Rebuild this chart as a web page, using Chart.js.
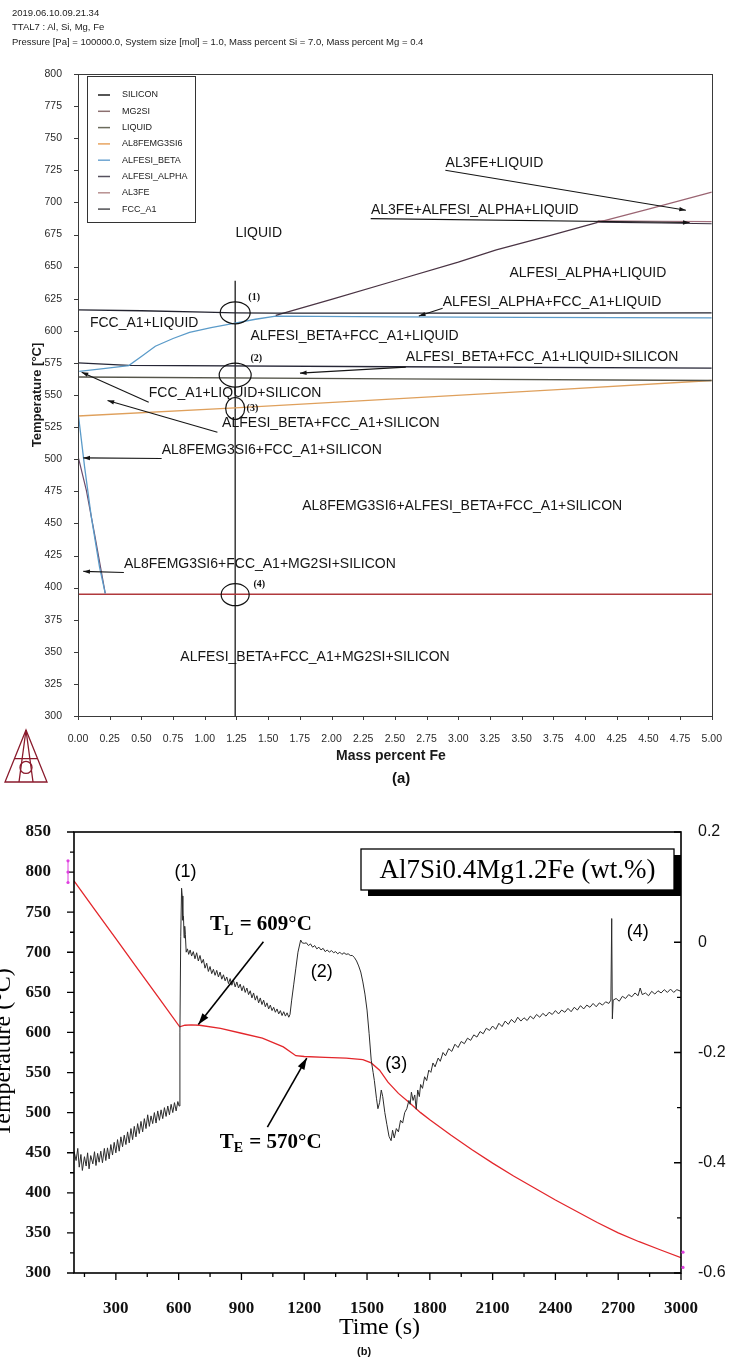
<!DOCTYPE html>
<html>
<head>
<meta charset="utf-8">
<title>Al-7Si-0.4Mg-xFe phase diagram and cooling curve</title>
<script src="https://cdn.jsdelivr.net/npm/chart.js@4.4.1/dist/chart.umd.min.js"></script>
<style>
  html, body { margin:0; padding:0; background:#ffffff; }
  body { width:731px; height:1360px; position:relative; overflow:hidden; font-family:"Liberation Sans", Arial, sans-serif; }
  canvas { position:absolute; left:0; }
  #phaseCanvas { top:0; }
  #coolCanvas { top:800px; }
  .hdr { position:absolute; left:12px; font-size:9.5px; line-height:11px; color:#222; white-space:nowrap; z-index:2; }
  .cap { position:absolute; font-weight:bold; color:#111; z-index:2; white-space:nowrap; }
</style>
</head>
<body>
<div class="hdr" style="top:7px;">2019.06.10.09.21.34</div>
<div class="hdr" style="top:21px;">TTAL7 : Al, Si, Mg, Fe</div>
<div class="hdr" style="top:36px;">Pressure [Pa] = 100000.0, System size [mol] = 1.0, Mass percent Si = 7.0, Mass percent Mg = 0.4</div>
<canvas id="phaseCanvas" width="731" height="800"></canvas>
<canvas id="coolCanvas" width="731" height="560"></canvas>
<div class="cap" style="left:392px; top:769px; font-size:15px;">(a)</div>
<div class="cap" style="left:357px; top:1345px; font-size:11px;">(b)</div>
<script>
// ===================== (a) phase diagram: mass percent Fe vs temperature (°C) =====================
const feTicks = [0,0.25,0.5,0.75,1,1.25,1.5,1.75,2,2.25,2.5,2.75,3,3.25,3.5,3.75,4,4.25,4.5,4.75,5];
const tempTicksA = [300,325,350,375,400,425,450,475,500,525,550,575,600,625,650,675,700,725,750,775,800];

const fccLiquidus = [[0,616.3],[0.5,615.6],[1.0,614.6],[1.24,614],[1.56,613.7],[2.5,613.7],[3.5,613.8],[5.0,614]];
const alfesiAlphaLiquidus = [[1.56,612],[2.0,624.5],[2.5,639],[3.0,653.5],[3.3,663],[3.7,673.6],[4.1,684.4]];
const al3feLiquidus = [[4.1,684.4],[4.5,694.8],[5.0,708]];
const al3feInvariant = [[4.1,685.6],[4.6,685.3],[5.0,685]];
const alphaInvariant = [[4.1,684.6],[4.6,684],[5.0,683.4]];
const alfesiBetaLine = [[0.01,568.4],[0.2,570.5],[0.4,572.9],[0.5,580],[0.61,588],[0.75,594],[0.88,598.7],[1.05,602.5],[1.24,606],[1.4,609],[1.56,611.5],[2.5,610.8],[3.5,610.4],[5.0,610]];
const siliconLine = [[0,575],[0.4,573],[2.5,572],[5.0,571]];
const liquidLine = [[0,564],[2.5,562.6],[5.0,561.3]];
const al8feMg3Si6Line = [[0,533.7],[1.24,540],[2.5,547],[3.75,554],[5.0,561.3]];
const betaSolvus = [[0.005,532.8],[0.052,494],[0.105,455],[0.17,416],[0.215,395.5]];
const alphaSolvus = [[0.005,500.4],[0.066,475.8],[0.13,442],[0.215,395.5]];
const mg2siLine = [[0,394.8],[5.0,394.8]];
const alloyLine = [[1.24,639],[1.24,300]];

const legendNames = ['SILICON','MG2SI','LIQUID','AL8FEMG3SI6','ALFESI_BETA','ALFESI_ALPHA','AL3FE','FCC_A1'];

const regionLabels = ['LIQUID','AL3FE+LIQUID','AL3FE+ALFESI_ALPHA+LIQUID','ALFESI_ALPHA+LIQUID','ALFESI_ALPHA+FCC_A1+LIQUID','FCC_A1+LIQUID','ALFESI_BETA+FCC_A1+LIQUID','ALFESI_BETA+FCC_A1+LIQUID+SILICON','FCC_A1+LIQUID+SILICON','ALFESI_BETA+FCC_A1+SILICON','AL8FEMG3SI6+FCC_A1+SILICON','AL8FEMG3SI6+ALFESI_BETA+FCC_A1+SILICON','AL8FEMG3SI6+FCC_A1+MG2SI+SILICON','ALFESI_BETA+FCC_A1+MG2SI+SILICON'];
const regionLabelFe = [1.242,2.90,2.311,3.404,2.877,0.094,1.36,2.586,0.558,1.137,0.66,1.769,0.362,0.807];
const regionLabelT = [676,730.8,693.9,645,622.4,605.8,595.6,579.3,551.2,527.8,506.7,463.8,418.3,345.5];

const leaderFromFe = [2.898,2.309,2.877,2.586,0.558,1.10,0.66,0.362];
const leaderFromT = [725.1,687.4,617.5,571.7,544.4,521,500.5,411.8];
const leaderToFe = [4.796,4.825,2.689,1.751,0.029,0.233,0.042,0.042];
const leaderToT = [693.9,684.3,611.5,567,567.8,545.7,501,412.6];

const pointMarks = ['(1)','(2)','(3)','(4)'];
const pointFe = [1.24,1.24,1.24,1.24];
const pointT = [614,565.5,539.5,394.5];
const pointLabelFe = [1.344,1.36,1.33,1.384];
const pointLabelT = [626.3,578.5,539.5,402.2];

// ===================== (b) cooling curve: time (s) =====================
const timeTicks = [300,600,900,1200,1500,1800,2100,2400,2700,3000];
const tempTicksB = [300,350,400,450,500,550,600,650,700,750,800,850];
const rateTicks = [-0.6,-0.4,-0.2,0,0.2];

const coolingCurve = [[100,789],[200,753],[300,717],[400,681],[500,645],[605,607],[630,609],[660,609.5],[700,609],[800,605],[900,599],[1000,593],[1100,582],[1160,571],[1200,570],[1300,569],[1400,568],[1480,566],[1520,562],[1560,553],[1600,538],[1650,524],[1700,513],[1756,500],[1800,491],[1900,472],[2000,454],[2100,437],[2200,421],[2300,406],[2400,391],[2500,377],[2600,363],[2700,350],[2800,339],[2900,329],[3000,319]];

const rateSignal = [[100,-0.379],[110,-0.396],[118,-0.374],[125,-0.408],[133,-0.385],[140,-0.414],[150,-0.389],[158,-0.406],[165,-0.382],[172,-0.411],[180,-0.387],[190,-0.402],[198,-0.380],[205,-0.405],[213,-0.383],[220,-0.399],[228,-0.379],[236,-0.400],[245,-0.374],[252,-0.396],[260,-0.373],[268,-0.393],[276,-0.367],[284,-0.386],[292,-0.363],[300,-0.382],[308,-0.358],[316,-0.379],[324,-0.353],[332,-0.371],[340,-0.350],[348,-0.367],[356,-0.344],[364,-0.364],[372,-0.338],[380,-0.358],[388,-0.334],[396,-0.353],[404,-0.329],[412,-0.347],[420,-0.325],[428,-0.344],[436,-0.320],[444,-0.338],[452,-0.313],[460,-0.334],[468,-0.315],[476,-0.329],[484,-0.309],[492,-0.328],[500,-0.306],[508,-0.323],[516,-0.304],[524,-0.320],[532,-0.300],[540,-0.316],[548,-0.297],[556,-0.313],[564,-0.294],[572,-0.309],[580,-0.291],[588,-0.306],[596,-0.289],[602,-0.297],
[606,-0.163],[610,0.011],[614,0.098],[617,0.084],[620,0.040],[623,0.047],[626,0.008],[629,0.029],[632,0.014],
[636,-0.018],[642,-0.012],[648,-0.022],[655,-0.014],[662,-0.025],[670,-0.017],[678,-0.030],[686,-0.019],[694,-0.034],[702,-0.024],[710,-0.038],[718,-0.031],[726,-0.047],[734,-0.038],[742,-0.053],[750,-0.044],[758,-0.057],[766,-0.049],[774,-0.060],[782,-0.051],[790,-0.063],[798,-0.054],[806,-0.067],[814,-0.059],[822,-0.070],[830,-0.063],[838,-0.075],[846,-0.066],[854,-0.078],[862,-0.069],[870,-0.081],[878,-0.072],[886,-0.083],[894,-0.076],[902,-0.088],[910,-0.079],[918,-0.091],[926,-0.083],[934,-0.095],[942,-0.088],[950,-0.101],[958,-0.092],[966,-0.105],[974,-0.097],[982,-0.110],[990,-0.101],[998,-0.113],[1006,-0.105],[1014,-0.117],[1022,-0.110],[1030,-0.121],[1038,-0.114],[1046,-0.124],[1054,-0.118],[1062,-0.127],[1070,-0.121],[1078,-0.130],[1086,-0.124],[1094,-0.133],[1102,-0.126],[1110,-0.134],[1118,-0.128],[1126,-0.136],[1132,-0.131],
[1140,-0.105],[1150,-0.076],[1160,-0.047],[1170,-0.018],[1183,0.004],[1190,-0.001],[1200,-0.002],[1210,-0.001],[1220,-0.006],[1230,-0.003],[1240,-0.009],[1250,-0.006],[1260,-0.012],[1270,-0.009],[1280,-0.014],[1290,-0.011],[1300,-0.017],[1310,-0.014],[1320,-0.018],[1330,-0.015],[1340,-0.019],[1350,-0.017],[1360,-0.021],[1370,-0.018],[1380,-0.022],[1390,-0.019],[1400,-0.022],[1410,-0.021],[1420,-0.024],[1430,-0.024],[1440,-0.028],[1450,-0.034],[1460,-0.043],[1470,-0.054],[1480,-0.072],[1490,-0.094],[1500,-0.123],[1510,-0.166],[1520,-0.214],[1529,-0.236],
[1535,-0.251],[1545,-0.283],[1552,-0.302],[1560,-0.291],[1568,-0.268],[1575,-0.280],[1585,-0.309],[1595,-0.331],[1605,-0.352],[1615,-0.360],[1622,-0.341],[1630,-0.355],[1640,-0.338],[1650,-0.344],[1660,-0.323],[1670,-0.328],[1680,-0.309],[1690,-0.302],[1700,-0.287],[1706,-0.294],[1712,-0.272],[1720,-0.287],[1728,-0.277],[1735,-0.303],[1742,-0.268],[1750,-0.280],[1756,-0.258],[1765,-0.265],[1775,-0.244],[1785,-0.251],[1795,-0.232],[1805,-0.236],[1815,-0.219],[1825,-0.226],[1840,-0.210],[1850,-0.216],[1863,-0.200],[1875,-0.206],[1890,-0.193],[1905,-0.198],[1920,-0.185],[1935,-0.191],[1950,-0.180],[1965,-0.184],[1980,-0.174],[1995,-0.178],[2010,-0.168],[2025,-0.172],[2040,-0.162],[2055,-0.166],[2070,-0.156],[2085,-0.160],[2100,-0.152],[2115,-0.158],[2130,-0.147],[2145,-0.153],[2160,-0.143],[2175,-0.149],[2190,-0.140],[2205,-0.146],[2220,-0.136],[2235,-0.143],[2250,-0.137],[2265,-0.142],[2280,-0.134],[2295,-0.139],[2310,-0.131],[2325,-0.136],[2340,-0.129],[2355,-0.134],[2370,-0.127],[2385,-0.131],[2400,-0.124],[2415,-0.130],[2430,-0.123],[2445,-0.127],[2460,-0.120],[2475,-0.126],[2490,-0.118],[2505,-0.123],[2520,-0.115],[2535,-0.121],[2550,-0.114],[2565,-0.118],[2580,-0.111],[2595,-0.117],[2610,-0.110],[2625,-0.114],[2640,-0.108],[2655,-0.111],[2665,-0.105],[2669,0.043],[2672,-0.139],[2676,-0.105],[2690,-0.102],[2705,-0.107],[2720,-0.098],[2735,-0.102],[2750,-0.095],[2765,-0.099],[2780,-0.092],[2795,-0.097],[2805,-0.083],[2815,-0.095],[2830,-0.092],[2845,-0.097],[2860,-0.089],[2875,-0.094],[2890,-0.088],[2905,-0.092],[2920,-0.086],[2935,-0.091],[2950,-0.085],[2965,-0.091],[2980,-0.086],[3000,-0.089]];

const eventMarks = ['(1)','(2)','(3)','(4)'];
const eventTime = [633,1284,1639,2793];
const eventTemp = [800,675,561,725];
const tlLabelAt = [750,734];
const teLabelAt = [796,463];
const tlArrow = [[1005,713],[694,610]];
const teArrow = [[1024,482],[1212,568]];
const alloyName = 'Al7Si0.4Mg1.2Fe (wt.%)';

// ===================== styles =====================
const SANS = '"Liberation Sans", Arial, sans-serif';
const SERIF = '"Liberation Serif", "Times New Roman", serif';
const legendColors = ['#1e1e1e','#8c7070','#6b6b5c','#e8a560','#6fa6d2','#55505e','#b89090','#4e4e52'];

const topSeries = [
  {label:'FCC_A1', pts:fccLiquidus, color:'#23232f', w:1.3},
  {label:'ALFESI_ALPHA', pts:alfesiAlphaLiquidus, color:'#4a3444', w:1.2},
  {label:'AL3FE', pts:al3feLiquidus, color:'#9a6472', w:1.2},
  {label:'AL3FE', pts:al3feInvariant, color:'#a4707e', w:1.1},
  {label:'ALFESI_ALPHA', pts:alphaInvariant, color:'#3a3040', w:1.1},
  {label:'ALFESI_BETA', pts:alfesiBetaLine, color:'#5b9bc9', w:1.3},
  {label:'SILICON', pts:siliconLine, color:'#262636', w:1.3},
  {label:'LIQUID', pts:liquidLine, color:'#55554a', w:1.3},
  {label:'AL8FEMG3SI6', pts:al8feMg3Si6Line, color:'#dfa05c', w:1.4},
  {label:'ALFESI_BETA', pts:betaSolvus, color:'#5b9bc9', w:1.3},
  {label:'ALFESI_ALPHA', pts:alphaSolvus, color:'#6a4a6a', w:1.2},
  {label:'MG2SI', pts:mg2siLine, color:'#b0393c', w:1.5},
  {label:'alloy', pts:alloyLine, color:'#1a1a1a', w:1.3}
];
const circleRx = [15,16,9.5,14];
const circleRy = [11,12,11,11];

function arrowLine(ctx, x1, y1, x2, y2, head, lw, withHead) {
  ctx.lineWidth = lw;
  ctx.beginPath(); ctx.moveTo(x1, y1); ctx.lineTo(x2, y2); ctx.stroke();
  if (!withHead) return;
  const a = Math.atan2(y2 - y1, x2 - x1);
  ctx.beginPath();
  ctx.moveTo(x2, y2);
  ctx.lineTo(x2 - head * Math.cos(a - 0.32), y2 - head * Math.sin(a - 0.32));
  ctx.lineTo(x2 - head * Math.cos(a + 0.32), y2 - head * Math.sin(a + 0.32));
  ctx.closePath(); ctx.fill();
}

const phaseDecor = {
  id: 'phaseDecor',
  afterDatasetsDraw(chart) {
    const {ctx, chartArea: a, scales: {x, y}} = chart;
    const px = v => x.getPixelForValue(v), py = v => y.getPixelForValue(v);
    ctx.save();
    ctx.strokeStyle = '#3a3a3a'; ctx.lineWidth = 1;
    ctx.strokeRect(Math.round(a.left) + 0.5, Math.round(a.top) + 0.5, Math.round(a.right - a.left), Math.round(a.bottom - a.top));
    ctx.beginPath();
    tempTicksA.forEach(v => { const yy = Math.round(py(v)) + 0.5; ctx.moveTo(a.left - 4, yy); ctx.lineTo(a.left, yy); });
    feTicks.forEach(v => { const xx = Math.round(px(v)) + 0.5; ctx.moveTo(xx, a.bottom); ctx.lineTo(xx, a.bottom + 4); });
    ctx.stroke();
    ctx.strokeStyle = '#111'; ctx.lineWidth = 1.2;
    pointFe.forEach((f, i) => {
      ctx.beginPath(); ctx.ellipse(px(f), py(pointT[i]), circleRx[i], circleRy[i], 0, 0, Math.PI * 2); ctx.stroke();
    });
    ctx.fillStyle = '#111'; ctx.textBaseline = 'middle'; ctx.textAlign = 'left';
    ctx.font = 'bold 10px ' + SERIF;
    pointMarks.forEach((m, i) => ctx.fillText(m, px(pointLabelFe[i]), py(pointLabelT[i])));
    ctx.font = '14px ' + SANS; ctx.fillStyle = '#151515';
    regionLabels.forEach((t, i) => ctx.fillText(t, px(regionLabelFe[i]), py(regionLabelT[i])));
    ctx.strokeStyle = '#151515'; ctx.fillStyle = '#151515';
    leaderFromFe.forEach((f, i) => arrowLine(ctx, px(f), py(leaderFromT[i]), px(leaderToFe[i]), py(leaderToT[i]), 7, 1.1, true));
    const lx = a.left + 9, ly = a.top + 2, lw = 108, lh = 146;
    ctx.fillStyle = '#fff'; ctx.fillRect(lx, ly, lw, lh);
    ctx.strokeStyle = '#333'; ctx.lineWidth = 1; ctx.strokeRect(lx + 0.5, ly + 0.5, lw, lh);
    ctx.font = '9px ' + SANS; ctx.textBaseline = 'middle';
    legendNames.forEach((n, i) => {
      const yy = ly + 19 + i * 16.3;
      ctx.strokeStyle = legendColors[i]; ctx.lineWidth = 1.5;
      ctx.beginPath(); ctx.moveTo(lx + 11, yy); ctx.lineTo(lx + 23, yy); ctx.stroke();
      ctx.fillStyle = '#1a1a1a'; ctx.fillText(n, lx + 35, yy);
    });
    ctx.fillStyle = '#1a1a1a';
    ctx.font = 'bold 13px ' + SANS; ctx.textAlign = 'center';
    ctx.save(); ctx.translate(37, (a.top + a.bottom) / 2); ctx.rotate(-Math.PI / 2); ctx.fillText('Temperature [°C]', 0, 0); ctx.restore();
    ctx.font = 'bold 14px ' + SANS;
    ctx.fillText('Mass percent Fe', (a.left + a.right) / 2 - 4, 756);
    ctx.strokeStyle = '#8a1a2c'; ctx.lineWidth = 1.3;
    const cx = 26, top = 730, h = 52, hw = 21;
    ctx.beginPath(); ctx.moveTo(cx, top); ctx.lineTo(cx - hw, top + h); ctx.lineTo(cx + hw, top + h); ctx.closePath(); ctx.stroke();
    ctx.beginPath();
    ctx.moveTo(cx, top); ctx.lineTo(cx - 7, top + h); ctx.moveTo(cx, top); ctx.lineTo(cx + 7, top + h);
    ctx.moveTo(cx - hw * 0.55, top + h * 0.55); ctx.lineTo(cx + hw * 0.55, top + h * 0.55);
    ctx.stroke();
    ctx.beginPath(); ctx.arc(cx, top + h * 0.72, 6, 0, Math.PI * 2); ctx.stroke();
    ctx.restore();
  }
};

new Chart(document.getElementById('phaseCanvas'), {
  type: 'scatter',
  data: { datasets: topSeries.map(s => ({
    label: s.label, data: s.pts.map(p => ({x: p[0], y: p[1]})), showLine: true,
    borderColor: s.color, borderWidth: s.w, pointRadius: 0, fill: false, tension: 0
  })) },
  options: {
    responsive: false, animation: false, devicePixelRatio: 1,
    layout: { padding: { top: 74, right: 17, bottom: 54, left: 0 } },
    plugins: { legend: { display: false }, tooltip: { enabled: false } },
    scales: {
      x: { type: 'linear', min: 0, max: 5, grid: { display: false }, border: { display: false },
        afterBuildTicks: s => { s.ticks = feTicks.map(v => ({ value: v })); },
        afterFit: s => { s.height = 30; },
        ticks: { autoSkip: false, maxRotation: 0, padding: 9, color: '#2a2a2a', font: { family: SANS, size: 10.5 }, callback: v => Number(v).toFixed(2) } },
      y: { type: 'linear', min: 300, max: 800, grid: { display: false }, border: { display: false },
        afterBuildTicks: s => { s.ticks = tempTicksA.map(v => ({ value: v })); },
        afterFit: s => { s.width = 78; },
        ticks: { autoSkip: false, padding: 8, color: '#2a2a2a', font: { family: SANS, size: 10.5 }, callback: v => String(v) } }
    }
  },
  plugins: [phaseDecor]
});

const coolDecor = {
  id: 'coolDecor',
  afterDatasetsDraw(chart) {
    const {ctx, chartArea: a, scales: {x, y, y1}} = chart;
    const px = v => x.getPixelForValue(v), py = v => y.getPixelForValue(v), pr = v => y1.getPixelForValue(v);
    ctx.save();
    ctx.strokeStyle = '#000'; ctx.lineWidth = 1.6;
    ctx.strokeRect(a.left, a.top, a.right - a.left, a.bottom - a.top);
    ctx.lineWidth = 1.3; ctx.beginPath();
    timeTicks.forEach(v => {
      const xx = px(v); ctx.moveTo(xx, a.bottom); ctx.lineTo(xx, a.bottom + 7);
      const xm = px(v - 150); ctx.moveTo(xm, a.bottom); ctx.lineTo(xm, a.bottom + 4);
    });
    tempTicksB.forEach(v => {
      const yy = py(v); ctx.moveTo(a.left - 7, yy); ctx.lineTo(a.left, yy);
      if (v < 850) { const ym = py(v + 25); ctx.moveTo(a.left - 4, ym); ctx.lineTo(a.left, ym); }
    });
    rateTicks.forEach(v => {
      const yy = pr(v); ctx.moveTo(a.right - 7, yy); ctx.lineTo(a.right, yy);
      if (v < 0.2) { const ym = pr(v + 0.1); ctx.moveTo(a.right - 4, ym); ctx.lineTo(a.right, ym); }
    });
    ctx.stroke();
    const bw = 313, bh = 41, bx = a.right - 7 - bw, by = a.top + 17;
    ctx.fillStyle = '#000'; ctx.fillRect(bx + 7, by + 6, bw, bh);
    ctx.fillStyle = '#fff'; ctx.fillRect(bx, by, bw, bh);
    ctx.strokeStyle = '#000'; ctx.lineWidth = 1.3; ctx.strokeRect(bx, by, bw, bh);
    ctx.fillStyle = '#000'; ctx.font = '27px ' + SERIF; ctx.textAlign = 'center'; ctx.textBaseline = 'middle';
    ctx.fillText(alloyName, bx + bw / 2, by + bh / 2 + 1);
    ctx.font = '18px ' + SANS;
    eventMarks.forEach((m, i) => ctx.fillText(m, px(eventTime[i]), py(eventTemp[i])));
    const sub = (x0, y0, main, s, rest) => {
      ctx.textAlign = 'left';
      ctx.font = 'bold 21px ' + SERIF; ctx.fillText(main, x0, y0); let w = ctx.measureText(main).width;
      ctx.font = 'bold 14px ' + SERIF; ctx.fillText(s, x0 + w, y0 + 6); w += ctx.measureText(s).width;
      ctx.font = 'bold 21px ' + SERIF; ctx.fillText(rest, x0 + w + 1, y0);
    };
    sub(px(tlLabelAt[0]), py(tlLabelAt[1]), 'T', 'L', ' = 609°C');
    sub(px(teLabelAt[0]), py(teLabelAt[1]), 'T', 'E', ' = 570°C');
    ctx.strokeStyle = '#000'; ctx.fillStyle = '#000';
    arrowLine(ctx, px(tlArrow[0][0]), py(tlArrow[0][1]), px(tlArrow[1][0]), py(tlArrow[1][1]), 12, 1.6, true);
    arrowLine(ctx, px(teArrow[0][0]), py(teArrow[0][1]), px(teArrow[1][0]), py(teArrow[1][1]), 12, 1.6, true);
    ctx.textAlign = 'center'; ctx.textBaseline = 'middle';
    ctx.font = '24px ' + SERIF;
    ctx.fillText('Time (s)', (a.left + a.right) / 2 + 2, 528);
    ctx.save(); ctx.translate(4, (a.top + a.bottom) / 2); ctx.rotate(-Math.PI / 2); ctx.fillText('Temperature (°C)', 0, 0); ctx.restore();
    ctx.strokeStyle = '#e040e0'; ctx.fillStyle = '#e040e0'; ctx.lineWidth = 1;
    ctx.beginPath(); ctx.moveTo(a.left - 6, py(814)); ctx.lineTo(a.left - 6, py(787)); ctx.stroke();
    [814, 800, 787].forEach(v => { ctx.beginPath(); ctx.arc(a.left - 6, py(v), 1.6, 0, Math.PI * 2); ctx.fill(); });
    [326, 307].forEach(v => { ctx.beginPath(); ctx.arc(a.right + 2, py(v), 1.6, 0, Math.PI * 2); ctx.fill(); });
    ctx.restore();
  }
};

new Chart(document.getElementById('coolCanvas'), {
  type: 'scatter',
  data: { datasets: [
    { label: 'dT/dt', yAxisID: 'y1', data: rateSignal.map(p => ({x: p[0], y: p[1]})), showLine: true,
      borderColor: '#2b2b2b', borderWidth: 1, pointRadius: 0, tension: 0 },
    { label: 'Temperature', yAxisID: 'y', data: coolingCurve.map(p => ({x: p[0], y: p[1]})), showLine: true,
      borderColor: '#e3262b', borderWidth: 1.3, pointRadius: 0, tension: 0 }
  ] },
  options: {
    responsive: false, animation: false, devicePixelRatio: 1,
    layout: { padding: { top: 32, right: 0, bottom: 47, left: 0 } },
    plugins: { legend: { display: false }, tooltip: { enabled: false } },
    scales: {
      x: { type: 'linear', min: 100, max: 3000, grid: { display: false }, border: { display: false },
        afterBuildTicks: s => { s.ticks = timeTicks.map(v => ({ value: v })); },
        afterFit: s => { s.height = 40; },
        ticks: { autoSkip: false, maxRotation: 0, padding: 17, color: '#111', font: { family: SERIF, size: 17, weight: 'bold' }, callback: v => String(v) } },
      y: { type: 'linear', position: 'left', min: 300, max: 850, grid: { display: false }, border: { display: false },
        afterBuildTicks: s => { s.ticks = tempTicksB.map(v => ({ value: v })); },
        afterFit: s => { s.width = 74; },
        ticks: { autoSkip: false, padding: 15, color: '#111', font: { family: SERIF, size: 17, weight: 'bold' }, callback: v => String(v) } },
      y1: { type: 'linear', position: 'right', min: -0.6, max: 0.2, grid: { display: false }, border: { display: false },
        afterBuildTicks: s => { s.ticks = rateTicks.map(v => ({ value: v })); },
        afterFit: s => { s.width = 50; },
        ticks: { autoSkip: false, padding: 9, color: '#111', font: { family: SANS, size: 16 }, callback: v => (Math.abs(v) < 1e-9 ? '0' : Number(v).toFixed(1)) } }
    }
  },
  plugins: [coolDecor]
});
</script>
</body>
</html>
